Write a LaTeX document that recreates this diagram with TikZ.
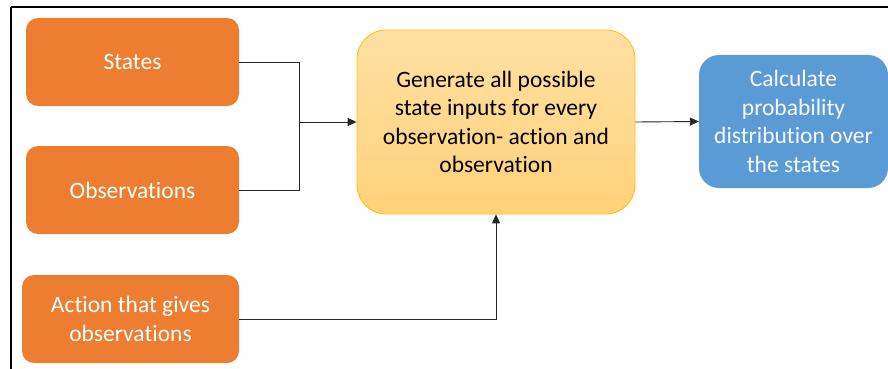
\documentclass[tikz,border=0pt]{standalone}
\usepackage{fontspec}
\setmainfont{Carlito}[Ligatures=NoCommon]
\usetikzlibrary{arrows.meta}
\definecolor{boxorange}{HTML}{ED7D31}
\definecolor{boxblue}{HTML}{5B9BD5}
\definecolor{goldline}{HTML}{FFC000}
\definecolor{goldtop}{HTML}{FFE0A3}
\definecolor{goldbot}{HTML}{FFD27A}
\begin{document}
\begin{tikzpicture}[x=1pt,y=-1pt,
  every node/.style={inner sep=0pt, align=center,
    font=\fontsize{23.5}{28.5}\selectfont},
  inbox/.style={fill=boxorange, text=white, rounded corners=12pt,
    minimum width=213pt, minimum height=88pt},
  genbox/.style={draw=goldline, line width=0.8pt, top color=goldtop,
    bottom color=goldbot, rounded corners=29pt, text=black,
    minimum width=278pt, minimum height=184pt},
  outbox/.style={fill=boxblue, text=white!96!boxblue, rounded corners=20pt,
    minimum width=189pt, minimum height=133pt},
  link/.style={draw=black!85, line width=0.9pt},
  tip/.style={-{Triangle[length=9pt,width=8pt]}}
]
\useasboundingbox (0,0) rectangle (888,369);
\fill[white] (0,0) rectangle (888,369);
% frame lines along the top and left
\draw[line width=1.4pt] (11,7) -- (888,7);
\draw[line width=1.4pt] (11,7) -- (11,369);

\node[inbox] (states) at (132.5,62) {States};
\node[inbox] (obs) at (132.5,190) {Observations};
\node[inbox, minimum width=217pt] (act) at (130.5,319) {Action that gives\\observations};
\node[genbox] (gen) at (496,122) {Generate all possible\\state inputs for every\\observation- action and\\observation};
\node[outbox] (calc) at (793.5,121.5) {Calculate\\probability\\distribution over\\the states};

\coordinate (join) at (299,122);
\draw[link] (states.east) -| (join);
\draw[link] (obs.east) -| (join);
\draw[link, tip] (join) -- (gen.west);
\draw[link, tip] (act.east) -| (gen.south);
\draw[link, tip] (gen.east) -- (calc.west);
\end{tikzpicture}
\end{document}
